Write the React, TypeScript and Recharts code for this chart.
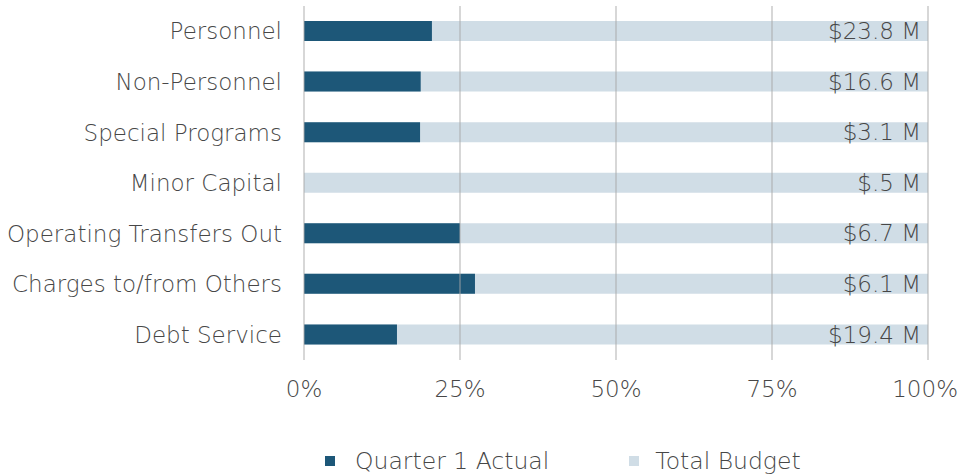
import { BarChart, Bar, XAxis, YAxis, ReferenceLine, LabelList } from 'recharts';

const categories = [
    'Personnel',
    'Non-Personnel',
    'Special Programs',
    'Minor Capital',
    'Operating Transfers Out',
    'Charges to/from Others',
    'Debt Service',
];
const actualPct = [20.5, 18.7, 18.6, 0, 25.0, 27.4, 14.9];
const budgetPct = [100, 100, 100, 100, 100, 100, 100];
const budgetLabels = ['$23.8 M', '$16.6 M', '$3.1 M', '$.5 M', '$6.7 M', '$6.1 M', '$19.4 M'];
const xTicks = [0, 25, 50, 75, 100];

const data = categories.map((name, i) => ({
    name,
    actual: actualPct[i],
    budget: budgetPct[i],
    label: budgetLabels[i],
}));

const FONT = '"DejaVu Sans", sans-serif';
const TEXT = '#474747';
const DARK = '#1d5778';
const LIGHT = '#d0dde6';
const SIZE = 23;

export default function App() {
    return (
        <div style={{ position: 'absolute', left: 0, top: 0, width: 958, height: 474, background: '#fff', fontFamily: FONT, fontWeight: 200 }}>
            <BarChart
                width={958}
                height={474}
                data={data}
                layout="vertical"
                margin={{ top: 6, right: 30, left: 0, bottom: 84 }}
                barSize={20}
                barGap={-20}
            >
                <XAxis
                    type="number"
                    domain={[0, 100]}
                    ticks={xTicks}
                    tickFormatter={(v) => `${v}%`}
                    axisLine={false}
                    tickLine={false}
                    tickSize={0}
                    tickMargin={21}
                    height={30}
                    tick={{ fill: TEXT, fontSize: SIZE, fontFamily: FONT, fontWeight: 200 }}
                />
                <YAxis
                    type="category"
                    dataKey="name"
                    width={304}
                    axisLine={false}
                    tickLine={false}
                    tickSize={0}
                    tickMargin={22}
                    tick={{ fill: TEXT, fontSize: SIZE, fontFamily: FONT, fontWeight: 200 }}
                    interval={0}
                />
                <Bar dataKey="budget" fill={LIGHT} isAnimationActive={false}>
                    <LabelList
                        dataKey="label"
                        position="insideRight"
                        offset={7}
                        style={{ fill: TEXT, fontSize: SIZE, fontFamily: FONT, fontWeight: 200 }}
                    />
                </Bar>
                <Bar dataKey="actual" fill={DARK} isAnimationActive={false} />
                {xTicks.map((t) => (
                    <ReferenceLine key={t} x={t} stroke="#a6a6a6" strokeOpacity={0.45} strokeWidth={2} />
                ))}
            </BarChart>
            <div style={{ position: 'absolute', left: 325, top: 447, display: 'flex', alignItems: 'center', fontSize: 23.5, color: TEXT, whiteSpace: 'nowrap' }}>
                <span style={{ width: 10, height: 10, background: DARK, display: 'inline-block', marginRight: 20 }} />
                <span>Quarter 1 Actual</span>
                <span style={{ width: 10, height: 10, background: LIGHT, display: 'inline-block', marginLeft: 80, marginRight: 16 }} />
                <span>Total Budget</span>
            </div>
        </div>
    );
}
